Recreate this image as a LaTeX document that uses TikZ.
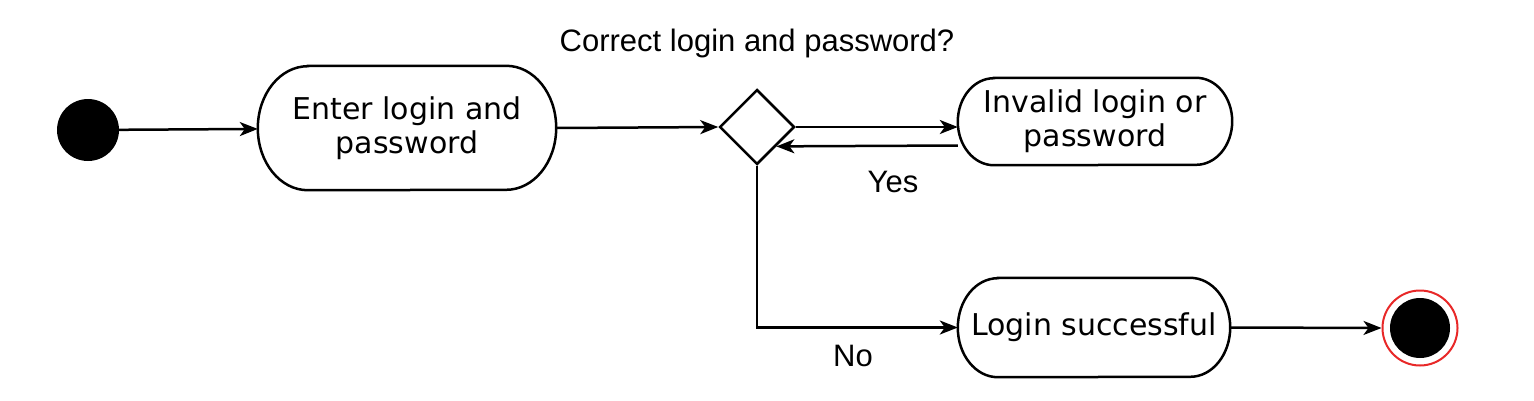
\documentclass[tikz,border=0pt]{standalone}
\usepackage{fontspec}
\setmainfont{Liberation Sans}
\newfontfamily\boxfont{DejaVu Sans}
\usetikzlibrary{shapes.geometric,arrows.meta}
\definecolor{endred}{RGB}{232,40,40}
\tikzset{
  line/.style={line width=2.5pt, draw=black},
  arr/.style={line, -{Stealth[length=18pt,width=14pt,inset=5pt]}},
  act/.style={rectangle, draw=none, inner sep=0pt, align=center,
    font=\boxfont\fontsize{30}{34}\selectfont},
  lbl/.style={font=\fontsize{31}{34}\selectfont, inner sep=0pt},
}
\newcommand\stadiumpath[3]{%
  \draw[line] ([xshift=#2]#1.north west) -- ([xshift=-#2]#1.north east)
    arc[start angle=90,end angle=-90,x radius=#2,y radius=#3]
    -- ([xshift=#2]#1.south west)
    arc[start angle=270,end angle=90,x radius=#2,y radius=#3] -- cycle;}
\begin{document}
\begin{tikzpicture}[x=1pt,y=-1pt]
\useasboundingbox (0,0) rectangle (1534,400);
\node[circle, fill=black, minimum size=62pt, inner sep=0pt] (start) at (88,130) {};
\node[act, minimum width=298pt, minimum height=124pt] (enter) at (407,128) {Enter login and\\password};
\stadiumpath{enter}{50pt}{62pt}
\node[diamond, draw, line width=2.5pt, minimum width=75pt, minimum height=75pt, aspect=1, inner sep=0pt] (dec) at (757,127) {};
\node[lbl] (title) at (757,43) {Correct login and password?};
\node[act, minimum width=274pt, minimum height=87pt] (invalid) at (1095,121.5) {Invalid login or\\password};
\stadiumpath{invalid}{36pt}{43.5pt}
\node[act, minimum width=272pt, minimum height=99pt] (login) at (1094,327.5) {Login successful};
\stadiumpath{login}{40pt}{49.5pt}
\node[circle, draw=endred, line width=2pt, minimum size=75pt, inner sep=0pt] (end) at (1420,328) {};
\fill[black] (end.center) circle[radius=30pt];
\node[lbl] (yes) at (893,182) {Yes};
\node[lbl] (no) at (853,356) {No};

\draw[arr] (start) -- (enter);
\draw[arr] (enter.east) -- (dec.west);
\draw[arr] (dec.east) -- (dec.east -| invalid.west);
\draw[arr] ([yshift=-24pt]invalid.west) -- (dec.south east);
\draw[arr] (dec.south) |- (login.west);
\draw[arr] (login.east) -- (end.west);
\end{tikzpicture}
\end{document}
